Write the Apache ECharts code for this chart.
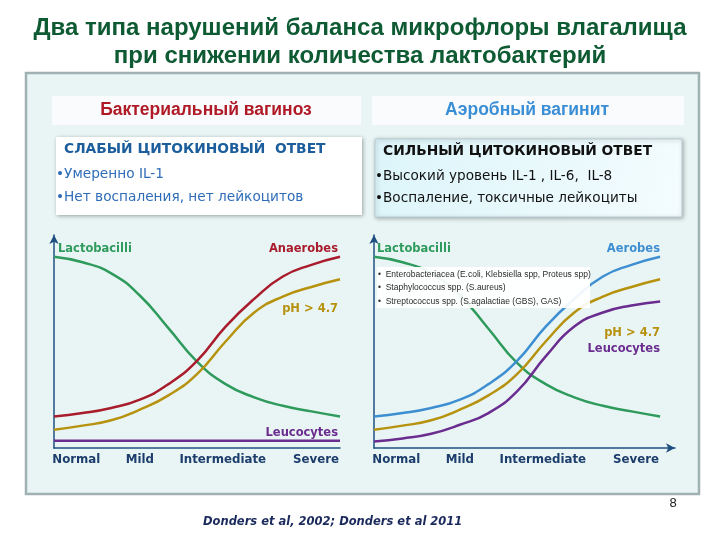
<!DOCTYPE html>
<html><head><meta charset="utf-8">
<script src="https://cdn.jsdelivr.net/npm/echarts@6/dist/echarts.min.js"></script>
<style>html,body{margin:0;padding:0;background:#fff}#c{width:720px;height:540px}</style>
</head><body><div id="c"></div>
<script>
// ---- data ----
const categories = ['Normal', 'Mild', 'Intermediate', 'Severe'];
const categoryPos = [7.8, 30, 59, 91.6];
const xSteps = [0, 10, 20, 30, 40, 50, 60, 70, 80, 90, 100];

// Bacterial vaginosis (left)
const bvLactobacilli = [89.8, 87.2, 82, 71.6, 56.3, 40.6, 30, 23.8, 19.8, 17.2, 14.8];
const bvAnaerobes    = [14.8, 16.4, 18.8, 22.7, 30, 40.9, 57, 70, 80.5, 86, 89.8];
const bvPH           = [8.6, 10.5, 13, 18, 24.7, 34.7, 50, 63.6, 71.1, 75.6, 79.2];
const bvLeucocytes   = [3.4, 3.4, 3.4, 3.4, 3.4, 3.4, 3.4, 3.4, 3.4, 3.4, 3.4];

// Aerobic vaginitis (right)
const avLactobacilli = [89.8, 87.2, 82, 71.6, 56, 40, 30, 23.8, 19.8, 17.2, 14.8];
const avAerobes      = [14.8, 16.4, 18.8, 22.7, 30, 40.9, 57, 70, 80.5, 86, 89.8];
const avPH           = [8.6, 10.5, 13, 18, 24.7, 34.7, 50, 63.6, 71.1, 75.6, 79.2];
const avLeucocytes   = [3.1, 4.5, 6.7, 10.9, 16.4, 26.6, 43, 57, 63.6, 66.9, 68.8];

const aerobeList = [
  '•  Enterobacteriacea (E.coli, Klebsiella spp, Proteus spp)',
  '•  Staphylococcus spp. (S.aureus)',
  '•  Streptococcus spp. (S.agalactiae (GBS), GAS)'
];

const C = {green:'#2e9a5c', red:'#a81c2c', gold:'#b6920f', purple:'#6a2c8e', blue:'#3d8fd2', axis:'#1f4f80', cat:'#1d3e6c'};

const chart = echarts.init(document.getElementById('c'), null, {renderer:'canvas'});

function pairs(ys){ return ys.map(function(y, i){ return [xSteps[i], y]; }); }
function xAx(idx, max, arrow){
  return {
    type:'value', gridIndex:idx, min:0, max:max,
    axisLine:{show:true, lineStyle:{color:C.axis, width:1.5}, symbol: arrow ? ['none','arrow'] : ['none','none'], symbolSize:[7,9]},
    axisTick:{show:false}, splitLine:{show:false},
    axisLabel:{customValues:categoryPos, showMinLabel:true, showMaxLabel:true, margin:6,
      color:C.cat, fontFamily:'DejaVu Sans', fontWeight:'bold', fontSize:11.8,
      formatter:function(v){ const i = categoryPos.indexOf(v); return i>=0 ? categories[i] : ''; }}
  };
}
function yAx(idx){
  return {
    type:'value', gridIndex:idx, min:0, max:100,
    axisLine:{show:true, lineStyle:{color:C.axis, width:1.5}, symbol:['none','arrow'], symbolSize:[7,9]},
    axisTick:{show:false}, splitLine:{show:false}, axisLabel:{show:false}
  };
}
function ln(name, ys, color, xi){
  return {type:'line', name:name, data:pairs(ys), xAxisIndex:xi, yAxisIndex:xi, smooth:0.5,
    showSymbol:false, symbol:'none', lineStyle:{color:color, width:2.5}, itemStyle:{color:color}, z:3};
}
function lbl(x, y, text, color, align){
  return {type:'text', x:x, y:y, z:20, style:{text:text, fill:color, font:'bold 11.5px "DejaVu Sans"', align:align||'left', verticalAlign:'middle'}};
}

chart.setOption({
  animation:false,
  backgroundColor:'#ffffff',
  grid:[
    {left:54, top:235, width:286, height:213},
    {left:374, top:235, width:301, height:213}
  ],
  xAxis:[xAx(0,100,false), xAx(1,105.2,true)],
  yAxis:[yAx(0), yAx(1)],
  series:[
    ln('Lactobacilli', bvLactobacilli, C.green, 0),
    ln('Anaerobes', bvAnaerobes, C.red, 0),
    ln('pH > 4.7', bvPH, C.gold, 0),
    ln('Leucocytes', bvLeucocytes, C.purple, 0),
    ln('Lactobacilli', avLactobacilli, C.green, 1),
    ln('Aerobes', avAerobes, C.blue, 1),
    ln('pH > 4.7', avPH, C.gold, 1),
    ln('Leucocytes', avLeucocytes, C.purple, 1)
  ],
  graphic:[
    // title
    {type:'text', x:360, y:28, z:1, style:{text:'Два типа нарушений баланса микрофлоры влагалища', fill:'#0e5a33', font:'bold 24px "Liberation Sans"', align:'center', verticalAlign:'middle'}},
    {type:'text', x:360, y:56, z:1, style:{text:'при снижении количества лактобактерий', fill:'#0e5a33', font:'bold 24px "Liberation Sans"', align:'center', verticalAlign:'middle'}},
    // frame
    {type:'rect', z:0, shape:{x:26, y:73, width:673, height:421}, style:{fill:'#e9f5f5', stroke:'#a0b1b3', lineWidth:2.5}},
    // header boxes
    {type:'rect', z:1, shape:{x:52, y:96, width:309, height:29}, style:{fill:'#f9fbfc'}},
    {type:'text', x:206, y:110.5, z:2, style:{text:'Бактериальный вагиноз', fill:'#b01a26', font:'bold 17.5px "Liberation Sans"', align:'center', verticalAlign:'middle'}},
    {type:'rect', z:1, shape:{x:372, y:96, width:312, height:29}, style:{fill:'#f9fbfc'}},
    {type:'text', x:527, y:110.5, z:2, style:{text:'Аэробный вагинит', fill:'#3a8ed6', font:'bold 17.5px "Liberation Sans"', align:'center', verticalAlign:'middle'}},
    // left sub box
    {type:'rect', z:1, shape:{x:56, y:137, width:306, height:78}, style:{fill:'#ffffff', shadowBlur:4, shadowColor:'rgba(0,0,0,0.35)', shadowOffsetX:1, shadowOffsetY:1}},
    {type:'text', x:64, y:149, z:2, style:{text:'СЛАБЫЙ ЦИТОКИНОВЫЙ  ОТВЕТ', fill:'#1c5d9c', font:'bold 13.8px "DejaVu Sans"', verticalAlign:'middle'}},
    {type:'text', x:56, y:174, z:2, style:{text:'•Умеренно IL-1', fill:'#2f6db8', font:'13.7px "DejaVu Sans"', verticalAlign:'middle'}},
    {type:'text', x:56, y:197, z:2, style:{text:'•Нет воспаления, нет лейкоцитов', fill:'#2f6db8', font:'13.7px "DejaVu Sans"', verticalAlign:'middle'}},
    // right sub box
    {type:'rect', z:1, shape:{x:375, y:139, width:307, height:78}, style:{
      fill:{type:'linear', x:0, y:0, x2:1, y2:1, colorStops:[{offset:0,color:'#dcf5fa'},{offset:1,color:'#f4fcfe'}]},
      stroke:'#b9ccd2', lineWidth:1, shadowBlur:4, shadowColor:'rgba(0,0,0,0.3)', shadowOffsetX:1, shadowOffsetY:1}},
    {type:'text', x:383, y:151, z:2, style:{text:'СИЛЬНЫЙ ЦИТОКИНОВЫЙ ОТВЕТ', fill:'#111111', font:'bold 13.8px "DejaVu Sans"', verticalAlign:'middle'}},
    {type:'text', x:375, y:176, z:2, style:{text:'•Высокий уровень IL-1 , IL-6,  IL-8', fill:'#111111', font:'13.6px "DejaVu Sans"', verticalAlign:'middle'}},
    {type:'text', x:375, y:198, z:2, style:{text:'•Воспаление, токсичные лейкоциты', fill:'#111111', font:'13.6px "DejaVu Sans"', verticalAlign:'middle'}},
    // chart overlay box (right)
    {type:'rect', z:15, shape:{x:377, y:267, width:213, height:41}, style:{fill:'rgba(255,255,255,0.92)'}},
    {type:'text', x:378, y:275, z:16, style:{text:aerobeList[0], fill:'#2a2a2a', font:'8.5px "Liberation Sans"', verticalAlign:'middle'}},
    {type:'text', x:378, y:288, z:16, style:{text:aerobeList[1], fill:'#2a2a2a', font:'8.5px "Liberation Sans"', verticalAlign:'middle'}},
    {type:'text', x:378, y:302, z:16, style:{text:aerobeList[2], fill:'#2a2a2a', font:'8.5px "Liberation Sans"', verticalAlign:'middle'}},
    // series labels left
    lbl(58, 249, 'Lactobacilli', C.green),
    lbl(338, 249, 'Anaerobes', C.red, 'right'),
    lbl(338, 309, 'pH > 4.7', C.gold, 'right'),
    lbl(338, 433, 'Leucocytes', C.purple, 'right'),
    // series labels right
    lbl(377, 249, 'Lactobacilli', C.green),
    lbl(660, 249, 'Aerobes', C.blue, 'right'),
    lbl(660, 333, 'pH > 4.7', C.gold, 'right'),
    lbl(660, 349, 'Leucocytes', C.purple, 'right'),
    // footer
    {type:'text', x:673, y:503, z:2, style:{text:'8', fill:'#222222', font:'13px "Liberation Sans"', align:'center', verticalAlign:'middle'}},
    {type:'text', x:203, y:522, z:2, style:{text:'Donders et al, 2002; Donders et al 2011', fill:'#1b2a5c', font:'italic bold 11.5px "DejaVu Sans"', verticalAlign:'middle'}}
  ]
});
</script></body></html>
